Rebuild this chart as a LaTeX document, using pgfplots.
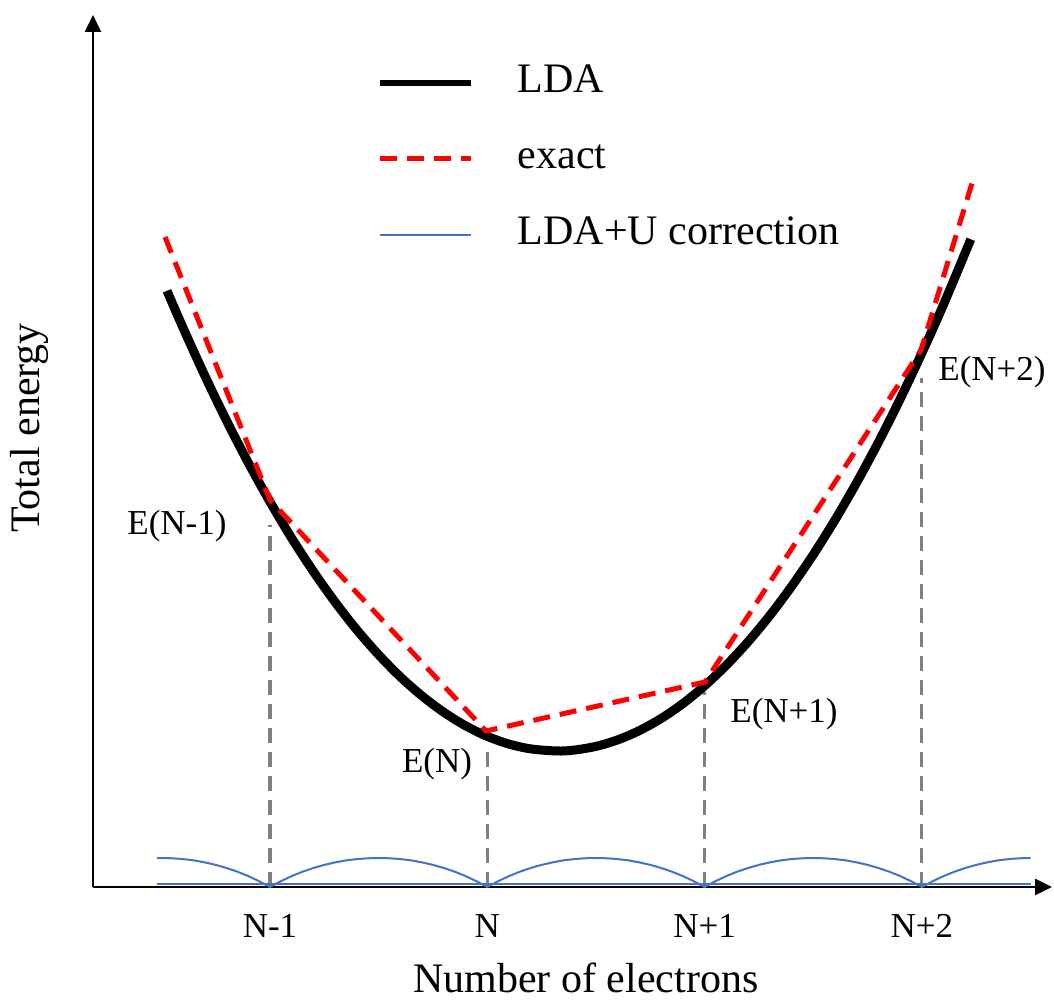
\documentclass[border=0pt]{standalone}
\usepackage{fontspec}
\setmainfont{Liberation Serif}
\usepackage{pgfplots}
\pgfplotsset{compat=1.18}
\usetikzlibrary{arrows.meta}
\definecolor{ldau}{RGB}{68,114,196}
\definecolor{vgray}{RGB}{128,128,128}
\begin{document}
\begin{tikzpicture}
\begin{axis}[
  x=108.65pt, y=0.5pt,
  xmin=0.1854, xmax=4.599, ymin=0, ymax=872,
  axis lines=left,
  axis line style={line width=1.2pt},
  every outer x axis line/.append style={-{Triangle[length=8.5pt,width=8pt]}},
  every outer y axis line/.append style={-{Triangle[length=8.5pt,width=8pt]}},
  clip=false,
  xtick={1,2,3,4},
  xticklabels={N-1,N,N+1,N+2},
  ytick=\empty,
  major tick length=0pt,
  xticklabel style={font=\fontsize{17.5}{21}\selectfont, anchor=base, yshift=-25.5pt, inner sep=0pt},
  xlabel={Number of electrons},
  ylabel={Total energy},
  xlabel style={font=\fontsize{21}{25}\selectfont, at={(axis cs:2.454,-106)}, anchor=base, inner sep=0pt, text depth=0pt},
  ylabel style={font=\fontsize{21}{25}\selectfont, at={(axis cs:-0.0585,459)}, anchor=base, inner sep=0pt},
  legend style={draw=none, fill=none, inner sep=0pt, outer sep=0pt,
    at={(axis cs:1.4924,822)}, anchor=north west,
    row sep=20pt, column sep=22pt,
    nodes={inner sep=0pt, text height=14pt, text depth=4pt, font=\fontsize{21}{25}\selectfont}},
  legend cell align=left,
  legend image code/.code={\draw[#1] (0pt,0pt) -- (45.5pt,0pt);},
]
\addlegendimage{black, line width=3pt}
\addlegendentry{LDA}
\addlegendimage{red, line width=2.5pt, dash pattern=on 8.5pt off 5pt}
\addlegendentry{exact}
\addlegendimage{ldau, line width=1pt}
\addlegendentry{LDA+U correction}

% vertical guide lines
\addplot[vgray, line width=1.6pt, dash pattern=on 7.5pt off 4.5pt, forget plot] coordinates {(1,0) (1,362)};
\addplot[vgray, line width=1.6pt, dash pattern=on 7.5pt off 4.5pt, forget plot] coordinates {(2,0) (2,143)};
\addplot[vgray, line width=1.6pt, dash pattern=on 7.5pt off 4.5pt, forget plot] coordinates {(3,0) (3,195)};
\addplot[vgray, line width=1.6pt, dash pattern=on 7.5pt off 4.5pt, forget plot] coordinates {(4,0) (4,509)};

% LDA+U correction
\addplot[ldau, line width=1pt, forget plot] coordinates {(0.48,2.5) (4.5,2.5)};
\addplot[ldau, line width=1pt, forget plot] coordinates {
(0.48,28.9) (0.5,29.0) (0.55,28.7) (0.6,27.9) (0.65,26.6) (0.7,24.6) (0.75,22.1) (0.8,19.0) (0.85,15.3) (0.9,10.9) (0.95,5.8) (1,0)
(1.05,5.8) (1.1,10.9) (1.15,15.3) (1.2,19.0) (1.25,22.1) (1.3,24.6) (1.35,26.6) (1.4,27.9) (1.45,28.7) (1.5,29.0)
(1.55,28.7) (1.6,27.9) (1.65,26.6) (1.7,24.6) (1.75,22.1) (1.8,19.0) (1.85,15.3) (1.9,10.9) (1.95,5.8) (2,0)
(2.05,5.8) (2.1,10.9) (2.15,15.3) (2.2,19.0) (2.25,22.1) (2.3,24.6) (2.35,26.6) (2.4,27.9) (2.45,28.7) (2.5,29.0)
(2.55,28.7) (2.6,27.9) (2.65,26.6) (2.7,24.6) (2.75,22.1) (2.8,19.0) (2.85,15.3) (2.9,10.9) (2.95,5.8) (3,0)
(3.05,5.8) (3.1,10.9) (3.15,15.3) (3.2,19.0) (3.25,22.1) (3.3,24.6) (3.35,26.6) (3.4,27.9) (3.45,28.7) (3.5,29.0)
(3.55,28.7) (3.6,27.9) (3.65,26.6) (3.7,24.6) (3.75,22.1) (3.8,19.0) (3.85,15.3) (3.9,10.9) (3.95,5.8) (4,0)
(4.05,5.8) (4.1,10.9) (4.15,15.3) (4.2,19.0) (4.25,22.1) (4.3,24.6) (4.35,26.6) (4.4,27.9) (4.45,28.7) (4.5,29.0)
};

% LDA
\addplot[black, line width=4.5pt, smooth, forget plot] coordinates {
(0.526,596.2) (0.6,559.1) (0.7,511.3) (0.8,466.4) (0.9,424.3) (1.0,385.2)
(1.1,348.8) (1.2,315.4) (1.3,284.8) (1.4,257.0) (1.5,232.2) (1.6,210.1)
(1.7,191.0) (1.8,174.7) (1.9,161.2) (2.0,150.6) (2.1,142.9) (2.2,138.1)
(2.32,136.0) (2.4,136.9) (2.5,140.6) (2.6,147.1) (2.7,156.4) (2.8,168.5)
(2.9,183.4) (3.0,201.2) (3.1,221.8) (3.2,245.2) (3.3,271.4) (3.4,300.5)
(3.5,332.3) (3.6,367.0) (3.7,404.5) (3.8,444.8) (3.9,488.0) (4.0,534.0)
(4.1,582.7) (4.225,647.7)
};

% exact
\addplot[red, line width=2.5pt, dash pattern=on 8.5pt off 5pt, forget plot] coordinates {
(0.517,650) (1.0,387) (1.994,156) (3.002,205) (3.996,537) (4.231,704)
};

\node[anchor=base, inner sep=0pt, font=\fontsize{17.5}{21}\selectfont] at (axis cs:0.572,352) {E(N-1)};
\node[anchor=base, inner sep=0pt, font=\fontsize{17.5}{21}\selectfont] at (axis cs:1.769,114) {E(N)};
\node[anchor=base west, inner sep=0pt, font=\fontsize{17.5}{21}\selectfont] at (axis cs:3.117,164) {E(N+1)};
\node[anchor=base west, inner sep=0pt, font=\fontsize{17.5}{21}\selectfont] at (axis cs:4.074,506) {E(N+2)};

\coordinate (bbsw) at (axis cs:-0.2425,-114);
\coordinate (bbne) at (axis cs:4.608,887);
\end{axis}
\pgfresetboundingbox
\path[use as bounding box] (bbsw) rectangle (bbne);
\end{tikzpicture}
\end{document}
